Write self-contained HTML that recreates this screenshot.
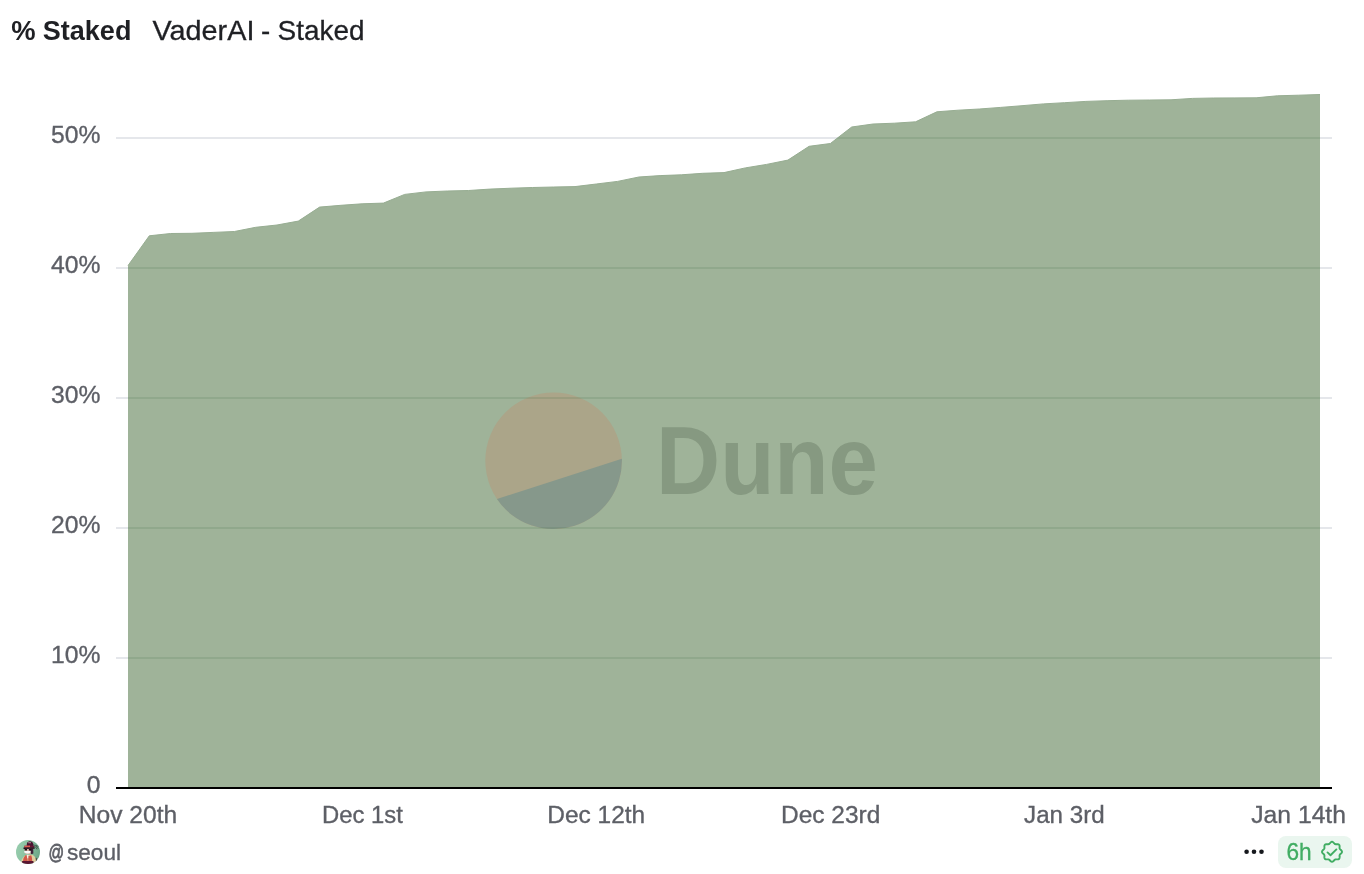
<!DOCTYPE html>
<html lang="en"><head><meta charset="utf-8"><title>% Staked - VaderAI - Staked</title>
<style>
html,body{margin:0;padding:0;background:#fff;}
body{width:1364px;height:874px;overflow:hidden;font-family:"Liberation Sans",sans-serif;}
svg{display:block;position:absolute;left:0;top:0;}
text{font-family:"Liberation Sans",sans-serif;}
.ax text{font-size:24.7px;fill:#5d5f66;stroke:#5d5f66;stroke-width:0.35px;}
.grid line{stroke:#e5e7eb;stroke-width:2;}
</style></head><body>
<svg width="1364" height="874" viewBox="0 0 1364 874">
<defs>
<clipPath id="ac"><path d="M128.0,788 L128.0,265.6 L149.3,235.8 L170.6,233.5 L191.9,233.3 L213.1,232.4 L234.4,231.5 L255.7,227.3 L277.0,225.0 L298.3,221.1 L319.6,207.1 L340.9,205.3 L362.1,203.8 L383.4,203.1 L404.7,194.4 L426.0,191.9 L447.3,191.0 L468.6,190.5 L489.9,189.1 L511.1,188.2 L532.4,187.5 L553.7,187.0 L575.0,186.6 L596.3,184.0 L617.6,181.4 L638.9,177.0 L660.1,175.6 L681.4,174.8 L702.7,173.3 L724.0,172.6 L745.3,167.9 L766.6,164.4 L787.9,160.1 L809.1,146.3 L830.4,143.5 L851.7,127.0 L873.0,124.0 L894.3,123.2 L915.6,121.8 L936.9,111.8 L958.1,110.2 L979.4,109.0 L1000.7,107.4 L1022.0,105.7 L1043.3,103.9 L1064.6,102.7 L1085.9,101.4 L1107.1,100.7 L1128.4,100.2 L1149.7,100.0 L1171.0,99.8 L1192.3,98.4 L1213.6,98.0 L1234.9,97.9 L1256.1,97.8 L1277.4,95.8 L1298.7,95.2 L1320.0,94.5 L1320.0,788 Z"/></clipPath>
<clipPath id="av"><circle cx="28" cy="852" r="12"/></clipPath>
<linearGradient id="avbg" x1="0" y1="0.3" x2="1" y2="0.6"><stop offset="0" stop-color="#98cdae"/><stop offset="0.45" stop-color="#8bc3a2"/><stop offset="1" stop-color="#68a485"/></linearGradient>
<filter id="avblur" x="-10%" y="-10%" width="120%" height="120%"><feGaussianBlur stdDeviation="0.35"/></filter>
</defs>
<g class="title">
<text y="40.4" font-size="27.4" font-weight="700" fill="#1f2024"><tspan x="11.3">%</tspan><tspan x="36"> </tspan><tspan x="42.8" textLength="88.6" lengthAdjust="spacingAndGlyphs">Staked</tspan></text>
<text y="40.4" font-size="27.6" fill="#1f2024" stroke="#1f2024" stroke-width="0.3"><tspan x="152.4" textLength="102" lengthAdjust="spacingAndGlyphs">VaderAI</tspan><tspan x="253.5"> </tspan><tspan x="261">-</tspan><tspan x="270"> </tspan><tspan x="277.5" textLength="87" lengthAdjust="spacingAndGlyphs">Staked</tspan></text>
</g>
<g class="grid"><line x1="116" x2="1332" y1="658.0" y2="658.0"/><line x1="116" x2="1332" y1="528.0" y2="528.0"/><line x1="116" x2="1332" y1="398.0" y2="398.0"/><line x1="116" x2="1332" y1="268.0" y2="268.0"/><line x1="116" x2="1332" y1="138.0" y2="138.0"/></g>
<path d="M128.0,788 L128.0,265.6 L149.3,235.8 L170.6,233.5 L191.9,233.3 L213.1,232.4 L234.4,231.5 L255.7,227.3 L277.0,225.0 L298.3,221.1 L319.6,207.1 L340.9,205.3 L362.1,203.8 L383.4,203.1 L404.7,194.4 L426.0,191.9 L447.3,191.0 L468.6,190.5 L489.9,189.1 L511.1,188.2 L532.4,187.5 L553.7,187.0 L575.0,186.6 L596.3,184.0 L617.6,181.4 L638.9,177.0 L660.1,175.6 L681.4,174.8 L702.7,173.3 L724.0,172.6 L745.3,167.9 L766.6,164.4 L787.9,160.1 L809.1,146.3 L830.4,143.5 L851.7,127.0 L873.0,124.0 L894.3,123.2 L915.6,121.8 L936.9,111.8 L958.1,110.2 L979.4,109.0 L1000.7,107.4 L1022.0,105.7 L1043.3,103.9 L1064.6,102.7 L1085.9,101.4 L1107.1,100.7 L1128.4,100.2 L1149.7,100.0 L1171.0,99.8 L1192.3,98.4 L1213.6,98.0 L1234.9,97.9 L1256.1,97.8 L1277.4,95.8 L1298.7,95.2 L1320.0,94.5 L1320.0,788 Z" fill="#9fb399"/>
<polyline points="128.0,265.6 149.3,235.8 170.6,233.5 191.9,233.3 213.1,232.4 234.4,231.5 255.7,227.3 277.0,225.0 298.3,221.1 319.6,207.1 340.9,205.3 362.1,203.8 383.4,203.1 404.7,194.4 426.0,191.9 447.3,191.0 468.6,190.5 489.9,189.1 511.1,188.2 532.4,187.5 553.7,187.0 575.0,186.6 596.3,184.0 617.6,181.4 638.9,177.0 660.1,175.6 681.4,174.8 702.7,173.3 724.0,172.6 745.3,167.9 766.6,164.4 787.9,160.1 809.1,146.3 830.4,143.5 851.7,127.0 873.0,124.0 894.3,123.2 915.6,121.8 936.9,111.8 958.1,110.2 979.4,109.0 1000.7,107.4 1022.0,105.7 1043.3,103.9 1064.6,102.7 1085.9,101.4 1107.1,100.7 1128.4,100.2 1149.7,100.0 1171.0,99.8 1192.3,98.4 1213.6,98.0 1234.9,97.9 1256.1,97.8 1277.4,95.8 1298.7,95.2 1320.0,94.5" fill="none" stroke="#97ad92" stroke-width="1"/>

<g class="wm">
<circle cx="553.6" cy="460.8" r="68.3" fill="#aba589"/>
<path d="M621.87,458.77 A68.3,68.3 0 0 1 496.98,498.99 Z" fill="#86988b"/>
<text x="656" y="493.8" font-size="95.5" font-weight="700" fill="#869981" textLength="222" lengthAdjust="spacingAndGlyphs">Dune</text>
</g>
<g clip-path="url(#ac)" class="gridin"><g stroke="#3b6a42" stroke-opacity="0.15" stroke-width="2"><line x1="116" x2="1332" y1="658.0" y2="658.0"/><line x1="116" x2="1332" y1="528.0" y2="528.0"/><line x1="116" x2="1332" y1="398.0" y2="398.0"/><line x1="116" x2="1332" y1="268.0" y2="268.0"/><line x1="116" x2="1332" y1="138.0" y2="138.0"/></g></g>
<line x1="116" x2="1332" y1="788" y2="788" stroke="#000" stroke-width="2.1"/>
<g class="ax"><text x="100.5" y="793.0" text-anchor="end">0</text><text x="100.5" y="663.0" text-anchor="end">10%</text><text x="100.5" y="533.0" text-anchor="end">20%</text><text x="100.5" y="403.0" text-anchor="end">30%</text><text x="100.5" y="273.0" text-anchor="end">40%</text><text x="100.5" y="143.0" text-anchor="end">50%</text><text x="128" y="823.2" text-anchor="middle" textLength="98.4" lengthAdjust="spacingAndGlyphs">Nov 20th</text><text x="362.4" y="823.2" text-anchor="middle" textLength="80.8" lengthAdjust="spacingAndGlyphs">Dec 1st</text><text x="596.2" y="823.2" text-anchor="middle" textLength="97.8" lengthAdjust="spacingAndGlyphs">Dec 12th</text><text x="830.7" y="823.2" text-anchor="middle" textLength="99.2" lengthAdjust="spacingAndGlyphs">Dec 23rd</text><text x="1064.4" y="823.2" text-anchor="middle" textLength="80.6" lengthAdjust="spacingAndGlyphs">Jan 3rd</text><text x="1298.6" y="823.2" text-anchor="middle">Jan 14th</text></g>
<g class="avatar" clip-path="url(#av)"><g transform="translate(16,840)">
<rect x="-1" y="-1" width="26" height="26" fill="url(#avbg)"/>
<g filter="url(#avblur)">
<path d="M5,24 L5.6,19.8 Q6.8,16.8 9.5,15.2 L15.5,14.6 Q19.3,16 20.2,19.5 L20.8,24 Z" fill="#dfcf9f"/>
<path d="M7,21 Q7.2,17.5 9.4,15.2 L11,15 L11.8,21.4 Z" fill="#d35a4a"/>
<path d="M12.1,16.2 L15.2,15.2 Q16.4,18 16.2,21.4 L12.3,21.4 Z" fill="#cf5547"/>
<path d="M10.6,14.8 L12.3,14.8 L12.3,18.2 L11.3,18.2 Z" fill="#f3efe9"/>
<path d="M6.2,21 L17.4,21 L17.8,24 L5.6,24 Z" fill="#5a1530"/>
<path d="M19.6,17.5 L20.6,18 L21.2,21.5 L20,21.5 Z" fill="#4a3a35"/>
<path d="M8.6,8.6 H15.4 V13 Q12,15.4 8.6,13 Z" fill="#d6b3a2"/>
<path d="M14.6,8.4 L17.2,8.4 L17.4,13.6 L15.2,14.2 L14.4,12 Z" fill="#3d2238"/>
<path d="M8.7,8.9 h2.3 v1.7 h-2.3 Z M12.9,8.9 h2.5 v1.7 h-2.5 Z" fill="#1d0f18"/>
<path d="M8.3,10.9 H14.6 V12.6 Q11.5,14.6 8.3,12.6 Z" fill="#f6f8fa"/>
<path d="M10.8,5.8 Q10.4,1.6 13.6,1.2 Q17.2,1 17.4,5 L17.6,6.6 L10.8,6.6 Z" fill="#4a1430"/>
<path d="M12.2,2.3 h2.8 v0.9 h-2.8 Z" fill="#c9a4b4"/>
<path d="M8.3,5.8 L14,5.6 L18.2,6 L18.4,7.6 L8.3,7.7 Z" fill="#6a1838"/>
<path d="M8.4,5.8 L14,5.6 L14,7.6 L8.4,7.6 Z" fill="#dc5c50"/>
<path d="M7.5,7.4 L18.6,7.3 L18.8,8.8 L7.5,8.9 Z" fill="#2a0f1c"/>
<path d="M17.2,4.6 Q20.6,5.4 22.4,8.8 M17.6,5.6 Q20,6.6 21,9.4 M19.6,5.2 L22.6,6.6" fill="none" stroke="#3c5048" stroke-width="0.8"/>
</g>
</g></g>
<text y="859.6" font-size="22" fill="#5d5f66" stroke="#5d5f66" stroke-width="0.35"><tspan x="48.4" y="858.8" font-size="19.8" textLength="15.6" lengthAdjust="spacingAndGlyphs" stroke-width="0.8">@</tspan><tspan x="67" y="859.6" textLength="54" lengthAdjust="spacingAndGlyphs">seoul</tspan></text>
<g fill="#16181d"><circle cx="1246.6" cy="851.8" r="2.3"/><circle cx="1254" cy="851.8" r="2.3"/><circle cx="1261.5" cy="851.8" r="2.3"/></g>
<rect x="1278" y="836" width="74" height="32" rx="8" fill="#eaf6ef"/>
<text x="1286.4" y="859.8" font-size="23.2" fill="#41ad63" stroke="#41ad63" stroke-width="0.3" textLength="25.2" lengthAdjust="spacingAndGlyphs">6h</text>
<path d="M1332.00,841.80 L1332.65,841.94 L1333.25,842.31 L1333.79,842.83 L1334.26,843.37 L1334.70,843.83 L1335.18,844.13 L1335.72,844.25 L1336.36,844.24 L1337.08,844.19 L1337.83,844.20 L1338.52,844.37 L1339.07,844.73 L1339.43,845.28 L1339.60,845.97 L1339.61,846.72 L1339.56,847.44 L1339.55,848.08 L1339.67,848.62 L1339.97,849.10 L1340.43,849.54 L1340.97,850.01 L1341.49,850.55 L1341.86,851.15 L1342.00,851.80 L1341.86,852.45 L1341.49,853.05 L1340.97,853.59 L1340.43,854.06 L1339.97,854.50 L1339.67,854.98 L1339.55,855.52 L1339.56,856.16 L1339.61,856.88 L1339.60,857.63 L1339.43,858.32 L1339.07,858.87 L1338.52,859.23 L1337.83,859.40 L1337.08,859.41 L1336.36,859.36 L1335.72,859.35 L1335.18,859.47 L1334.70,859.77 L1334.26,860.23 L1333.79,860.77 L1333.25,861.29 L1332.65,861.66 L1332.00,861.80 L1331.35,861.66 L1330.75,861.29 L1330.21,860.77 L1329.74,860.23 L1329.30,859.77 L1328.82,859.47 L1328.28,859.35 L1327.64,859.36 L1326.92,859.41 L1326.17,859.40 L1325.48,859.23 L1324.93,858.87 L1324.57,858.32 L1324.40,857.63 L1324.39,856.88 L1324.44,856.16 L1324.45,855.52 L1324.33,854.98 L1324.03,854.50 L1323.57,854.06 L1323.03,853.59 L1322.51,853.05 L1322.14,852.45 L1322.00,851.80 L1322.14,851.15 L1322.51,850.55 L1323.03,850.01 L1323.57,849.54 L1324.03,849.10 L1324.33,848.62 L1324.45,848.08 L1324.44,847.44 L1324.39,846.72 L1324.40,845.97 L1324.57,845.28 L1324.93,844.73 L1325.48,844.37 L1326.17,844.20 L1326.92,844.19 L1327.64,844.24 L1328.28,844.25 L1328.82,844.13 L1329.30,843.83 L1329.74,843.37 L1330.21,842.83 L1330.75,842.31 L1331.35,841.94Z" fill="none" stroke="#41ad63" stroke-width="1.9" stroke-linejoin="round"/>
<path d="M1327.5,852.4 L1330.5,855.2 L1336.4,849.4" fill="none" stroke="#41ad63" stroke-width="1.9" stroke-linecap="round" stroke-linejoin="round"/>
</svg>
</body></html>
